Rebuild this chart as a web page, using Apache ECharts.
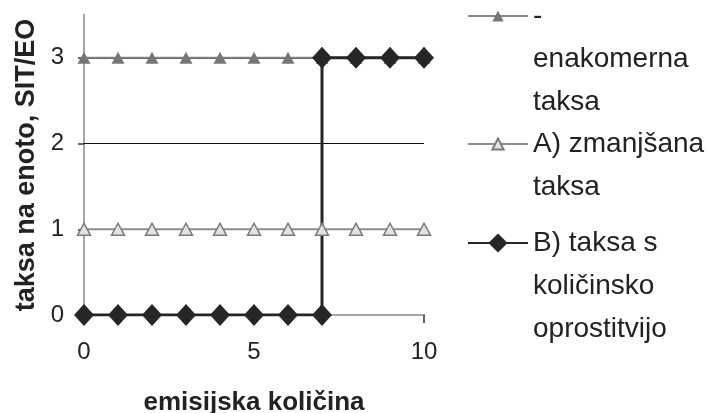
<!DOCTYPE html>
<html>
<head>
<meta charset="utf-8">
<script src="https://cdn.jsdelivr.net/npm/echarts@6/dist/echarts.min.js"></script>
<style>
  html, body { margin: 0; padding: 0; background: #fff; }
  #chart { width: 708px; height: 413px; }
</style>
</head>
<body>
<div id="chart"></div>
<script>
// Fee per unit of emission under three charging schemes
const seriesNames = ['-\nenakomerna\ntaksa', 'A) zmanjšana\ntaksa', 'B) taksa s\nkoličinsko\noprostitvijo'];
const emissionQty = [0, 1, 2, 3, 4, 5, 6, 7, 8, 9, 10];
const uniformFee = [3, 3, 3, 3, 3, 3, 3, 3, 3, 3, 3];
const reducedFee = [1, 1, 1, 1, 1, 1, 1, 1, 1, 1, 1];
const exemptQty = [0, 1, 2, 3, 4, 5, 6, 7, 7, 8, 9, 10];
const exemptFee = [0, 0, 0, 0, 0, 0, 0, 0, 3, 3, 3, 3];
const xTickValues = [0, 5, 10];
const yTickValues = [0, 1, 2, 3];
const yGridValues = [1, 2, 3];
const xTitle = 'emisijska količina';
const yTitle = 'taksa na enoto, SIT/EO';

const FONT = '"Liberation Sans", Arial, Helvetica, sans-serif';
const LEGEND_LH = 43;

const pairs = (xs, ys) => xs.map((x, i) => [x, ys[i]]);

// One legend block per series; leading empty lines keep the icon level
// with the first line of the (vertically centred) multi-line label
function legendBlock(name, iconCenterY, iconHeight) {
  const lines = name.split('\n').length;
  return {
    data: [name],
    orient: 'vertical',
    left: 467,
    top: iconCenterY - (lines - 0.5) * LEGEND_LH,
    height: 1000,
    padding: 0,
    itemWidth: 60,
    itemHeight: iconHeight,
    itemGap: 0,
    selectedMode: false,
    formatter: n => '\n'.repeat(lines - 1) + n,
    textStyle: {
      fontFamily: FONT,
      fontSize: 28,
      lineHeight: LEGEND_LH,
      color: '#222'
    }
  };
}

const chart = echarts.init(document.getElementById('chart'), null, { renderer: 'canvas' });

chart.setOption({
  animation: false,
  backgroundColor: '#fff',
  grid: { left: 84, right: 284, top: 15, bottom: 98, containLabel: false, outerBoundsMode: 'none' },
  legend: [
    legendBlock(seriesNames[0], 16, 14),
    legendBlock(seriesNames[1], 144, 14),
    legendBlock(seriesNames[2], 243, 24)
  ],
  xAxis: [{
    type: 'value',
    min: 0,
    max: 10,
    interval: 5,
    position: 'bottom',
    axisLine: { show: true, lineStyle: { color: '#333', width: 1.5 } },
    axisTick: { show: true, length: 8, lineStyle: { color: '#333', width: 1.5 }, customValues: xTickValues },
    axisLabel: { fontFamily: FONT, fontSize: 24, color: '#222', margin: 25, customValues: xTickValues },
    splitLine: { show: false },
    name: xTitle,
    nameLocation: 'middle',
    nameGap: 75,
    nameTextStyle: { fontFamily: FONT, fontSize: 26, fontWeight: 'bold', color: '#222' }
  }, {
    type: 'value',
    min: 0,
    max: 10,
    position: 'top',
    axisLine: { show: true, lineStyle: { color: '#a6a6a6', width: 2 } },
    axisTick: { show: false },
    axisLabel: { show: false },
    splitLine: { show: false }
  }],
  yAxis: [{
    type: 'value',
    min: 0,
    max: 3.5,
    position: 'left',
    axisLine: { show: true, lineStyle: { color: '#333', width: 1.5 } },
    axisTick: { show: true, length: 6, lineStyle: { color: '#333', width: 1.5 }, customValues: yTickValues },
    axisLabel: { fontFamily: FONT, fontSize: 24, color: '#222', margin: 20, customValues: yTickValues },
    splitLine: { show: false },
    name: yTitle,
    nameLocation: 'middle',
    nameRotate: 90,
    nameGap: 44,
    nameTextStyle: { fontFamily: FONT, fontSize: 27, fontWeight: 'bold', color: '#222' }
  }, {
    type: 'value',
    min: 0,
    max: 3.5,
    position: 'right',
    axisLine: { show: true, lineStyle: { color: '#a6a6a6', width: 2 } },
    axisTick: { show: false },
    axisLabel: { show: false },
    splitLine: { show: false }
  }],
  series: [{
    name: seriesNames[0],
    type: 'line',
    data: pairs(emissionQty, uniformFee),
    symbol: 'triangle',
    symbolSize: [13, 12],
    showAllSymbol: true,
    lineStyle: { color: '#858585', width: 2 },
    itemStyle: { color: '#767676' },
    z: 2,
    markLine: {
      silent: true,
      z: 1,
      symbol: ['none', 'none'],
      label: { show: false },
      lineStyle: { color: '#111', width: 1, type: 'solid' },
      data: yGridValues.map(v => ({ yAxis: v }))
    }
  }, {
    name: seriesNames[2],
    type: 'line',
    data: pairs(exemptQty, exemptFee),
    symbol: 'diamond',
    symbolSize: [20, 22],
    showAllSymbol: true,
    lineStyle: { color: '#262626', width: 3 },
    itemStyle: { color: '#262626' },
    z: 3
  }, {
    name: seriesNames[1],
    type: 'line',
    data: pairs(emissionQty, reducedFee),
    symbol: 'triangle',
    symbolSize: [13, 12],
    showAllSymbol: true,
    lineStyle: { color: '#8c8c8c', width: 2 },
    itemStyle: { color: '#e2e2e2', borderColor: '#7a7a7a', borderWidth: 1.5 },
    z: 4
  }]
});
</script>
</body>
</html>
